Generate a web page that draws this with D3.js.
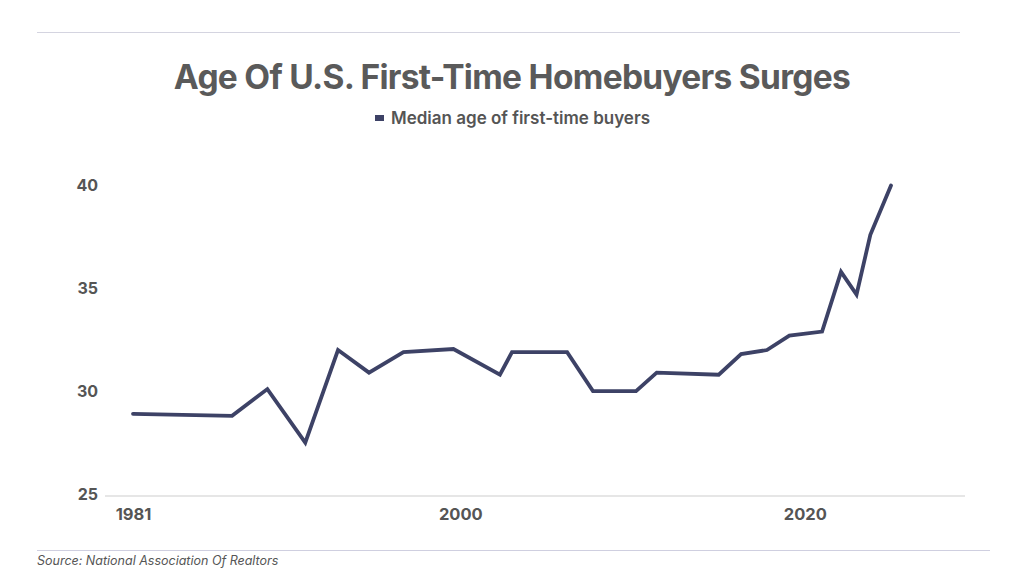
<!DOCTYPE html>
<html>
<head>
<meta charset="utf-8">
<script src="https://cdn.jsdelivr.net/npm/d3@7"></script>
<style>
  html, body { margin: 0; padding: 0; background: #ffffff; }
  svg { display: block; }
</style>
</head>
<body>
<svg id="chart" width="1024" height="576"></svg>
<script>
// ---- Data ----
const years = [1981, 1986.75, 1988.8, 1991, 1992.9, 1994.7, 1996.7, 1999.6, 2002.3, 2003,
               2006.2, 2007.7, 2010.2, 2011.4, 2015, 2016.3, 2017.8, 2019.1, 2021, 2022.1,
               2023, 2023.8, 2025];
const medianAge = [28.9, 28.8, 30.1, 27.5, 32.0, 30.9, 31.9, 32.05, 30.8, 31.9,
                   31.9, 30.0, 30.0, 30.9, 30.8, 31.8, 32.0, 32.7, 32.9, 35.8,
                   34.7, 37.6, 40.0];
const xTickValues = [1981, 2000, 2020];
const yTickValues = [25, 30, 35, 40];
const titleText = "Age Of U.S. First-Time Homebuyers Surges";
const seriesName = "Median age of first-time buyers";
const sourceText = "Source: National Association Of Realtors";

const data = years.map((y, i) => ({ year: y, age: medianAge[i] }));

const svg = d3.select("#chart");
const font = "Inter, 'Noto Sans', sans-serif";
const textColor = "#555555";
const lineColor = "#3d4266";

// Scales
const x = d3.scaleLinear().domain([1981, 2025]).range([133, 891]);
const y = d3.scaleLinear().domain([25, 40]).range([494, 185.5]);

// Top & bottom rules
svg.append("line").attr("x1", 37).attr("x2", 960).attr("y1", 32.5).attr("y2", 32.5)
  .attr("stroke", "#d4d4e0").attr("stroke-width", 1.2);
svg.append("line").attr("x1", 37).attr("x2", 990).attr("y1", 550.5).attr("y2", 550.5)
  .attr("stroke", "#cfcfe0").attr("stroke-width", 1.2);

// Title
svg.append("text").attr("x", 512).attr("y", 89)
  .attr("text-anchor", "middle")
  .style("font-family", font).style("font-weight", 700).style("font-size", "33.5px")
  .style("letter-spacing", "-0.7px")
  .attr("fill", "#5a5a5a").text(titleText);

// Legend
const legend = svg.append("g").attr("transform", "translate(375,118)");
legend.append("rect").attr("x", 0).attr("y", -3).attr("width", 9).attr("height", 6)
  .attr("fill", lineColor);
legend.append("text").attr("x", 16).attr("y", 6)
  .style("font-family", font).style("font-weight", 600).style("font-size", "17px")
  .attr("fill", textColor).text(seriesName);

// Baseline
svg.append("line").attr("x1", 105).attr("x2", 965)
  .attr("y1", y(25) + 2).attr("y2", y(25) + 2)
  .attr("stroke", "#dedede").attr("stroke-width", 1.5);

// Y axis (labels only)
const yAxis = d3.axisLeft(y).tickValues(yTickValues).tickSize(0).tickPadding(0)
  .tickFormat(d3.format("d"));
const gy = svg.append("g").attr("transform", "translate(98,0)").call(yAxis);
gy.select(".domain").remove();
gy.selectAll("text")
  .style("font-family", font).style("font-weight", 700).style("font-size", "16px")
  .attr("fill", textColor);

// X axis (labels only)
const xAxis = d3.axisBottom(x).tickValues(xTickValues).tickSize(0).tickPadding(0)
  .tickFormat(d3.format("d"));
const gx = svg.append("g").attr("transform", "translate(0,508)").call(xAxis);
gx.select(".domain").remove();
gx.selectAll("text")
  .style("font-family", font).style("font-weight", 700).style("font-size", "16.5px")
  .attr("fill", textColor);

// Line
const line = d3.line().x(d => x(d.year)).y(d => y(d.age));
svg.append("path").datum(data)
  .attr("d", line)
  .attr("fill", "none")
  .attr("stroke", lineColor)
  .attr("stroke-width", 3.8)
  .attr("stroke-linejoin", "miter")
  .attr("stroke-linecap", "round");

// Source
svg.append("text").attr("x", 37).attr("y", 565)
  .style("font-family", font).style("font-style", "italic").style("font-size", "12.5px")
  .attr("fill", textColor).text(sourceText);
</script>
</body>
</html>
